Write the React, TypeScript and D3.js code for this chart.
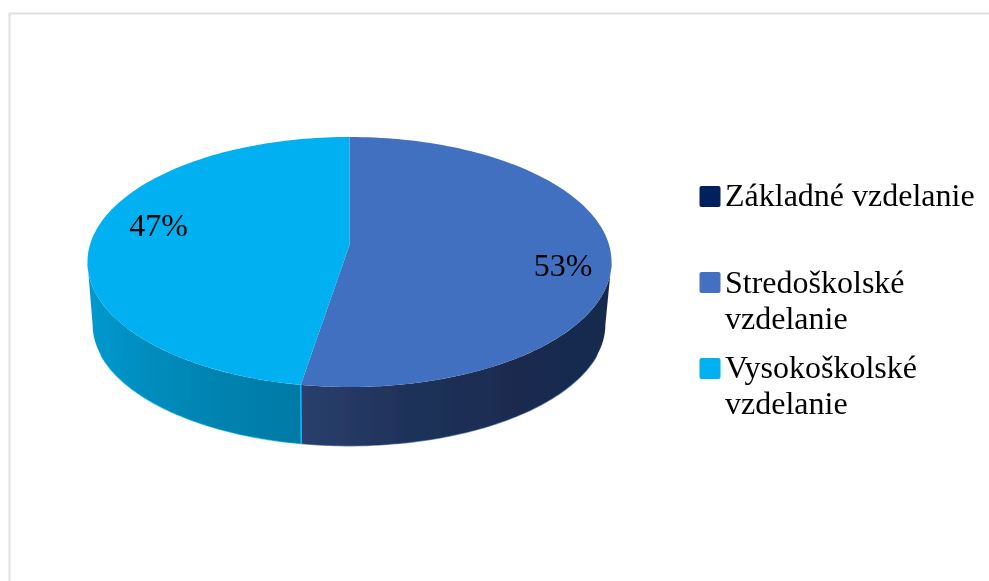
import React from "react";
import * as d3 from "d3";

const categories = ["Základné vzdelanie", "Stredoškolské vzdelanie", "Vysokoškolské vzdelanie"];
const values = [0, 52.6, 47.4];
const topColors = ["#002060", "#4370C0", "#00B0F0"];
const sideStops = [
  ["#001338", "#001338"],
  ["#2a3f6d", "#1f3259", "#1a2c50", "#182a4e"],
  ["#0099d0", "#008bbb", "#0081ae", "#0079a5"],
];
const legendLines = [["Základné vzdelanie"], ["Stredoškolské", "vzdelanie"], ["Vysokoškolské", "vzdelanie"]];
const legendBaselines = [[206], [293, 329], [378, 414]];
const legendSwatchTop = [186, 272, 358];
const labelPos = [null, { x: 563, y: 276 }, { x: 158.5, y: 236 }];

const W = 989, H = 581;
const FONT = "'Liberation Serif', 'Times New Roman', serif";
const K = 0.136; // perspective
const topRim = { cx: 349.5, cy: 245, C: 259.6, B: 122.7 };
const botRim = { cx: 349, cy: 308, C: 254, B: 119 };
type Rim = typeof topRim;

const project = (r: Rim, a: number): [number, number] => {
  const u = Math.sin(a), v = -Math.cos(a), w = 1 - K * v;
  return [r.cx + (r.C * u) / w, r.cy + (r.B * v) / w];
};
const sweep = (a0: number, a1: number, n = 120) => {
  const t = d3.scaleLinear().domain([0, n]).range([a0, a1]);
  return d3.range(n + 1).map((i) => t(i));
};
const line = d3.line();

export default function App() {
  const total = d3.sum(values);
  const arcs = d3.pie<number>().sort(null).startAngle(0).endAngle(2 * Math.PI)(values);
  const pct = d3.format(".0%");
  const frontA = Math.PI / 2 + Math.asin(K), frontB = (3 * Math.PI) / 2 - Math.asin(K);

  const wedge = (a0: number, a1: number) =>
    line([[topRim.cx, topRim.cy], ...sweep(a0, a1).map((a) => project(topRim, a))]) + "Z";

  const wall = (a0: number, a1: number) => {
    const s = Math.max(a0, frontA), e = Math.min(a1, frontB);
    if (e <= s) return null;
    const angs = sweep(s, e);
    const top = angs.map((a) => project(topRim, a));
    const bot = angs.slice().reverse().map((a) => project(botRim, a));
    const xs = [...top, ...bot].map((p) => p[0]);
    const rimEdge = sweep(Math.max(s, frontA + 0.25), Math.min(e, frontB - 0.25)).map((a) => project(botRim, a));
    return { d: line([...top, ...bot]) + "Z", x0: d3.min(xs)!, x1: d3.max(xs)!, rimEdge };
  };

  const seam = arcs[1].endAngle;

  return (
    <svg width={W} height={H} style={{ position: "absolute", left: 0, top: 0, background: "#fff" }}>
      <defs>
        {arcs.map((a, i) => {
          const w = wall(a.startAngle, a.endAngle);
          if (!w) return null;
          return (
            <linearGradient key={i} id={`side${i}`} gradientUnits="userSpaceOnUse" x1={w.x0} x2={w.x1} y1={0} y2={0}>
              {sideStops[i].map((c, k, arr) => (
                <stop key={k} offset={k / (arr.length - 1)} stopColor={c} />
              ))}
            </linearGradient>
          );
        })}
        <filter id="soft" x="-5%" y="-5%" width="110%" height="110%">
          <feGaussianBlur stdDeviation="0.6" />
        </filter>
        <filter id="softText" x="-5%" y="-5%" width="110%" height="110%">
          <feGaussianBlur stdDeviation="0.3" />
        </filter>
      </defs>

      <path d={`M9.5 ${H}V13.5H${W}`} fill="none" stroke="#e0e0e0" strokeWidth={2} />

      <g filter="url(#soft)">
        {arcs.map((a, i) => {
          const w = wall(a.startAngle, a.endAngle);
          return w ? (
            <g key={i}>
              <path d={line(w.rimEdge) as string} fill="none" stroke={topColors[i]} strokeWidth={1.4} strokeOpacity={0.8} />
              <path d={w.d} fill={`url(#side${i})`} />
            </g>
          ) : null;
        })}
        <line
          x1={project(topRim, seam)[0]} y1={project(topRim, seam)[1]}
          x2={project(botRim, seam)[0]} y2={project(botRim, seam)[1]}
          stroke="#10b8f4" strokeWidth={1.6}
        />
        {arcs.map((a, i) =>
          a.value > 0 ? <path key={i} d={wedge(a.startAngle, a.endAngle)} fill={topColors[i]} /> : null
        )}
      </g>

      <g filter="url(#softText)">
        {arcs.map((a, i) => {
          const p = labelPos[i];
          return p && a.value > 0 ? (
            <text key={i} x={p.x} y={p.y} textAnchor="middle" fontFamily={FONT} fontSize={32} fill="#000">
              {pct(a.value / total)}
            </text>
          ) : null;
        })}
        {categories.map((c, i) =>
          legendLines[i].map((t, k) => (
            <text key={c + k} x={725} y={legendBaselines[i][k]} fontFamily={FONT} fontSize={32} fill="#000">
              {t}
            </text>
          ))
        )}
      </g>
      {categories.map((c, i) => (
        <rect key={c} x={699.5} y={legendSwatchTop[i]} width={21} height={21} rx={2} fill={topColors[i]} />
      ))}
    </svg>
  );
}
